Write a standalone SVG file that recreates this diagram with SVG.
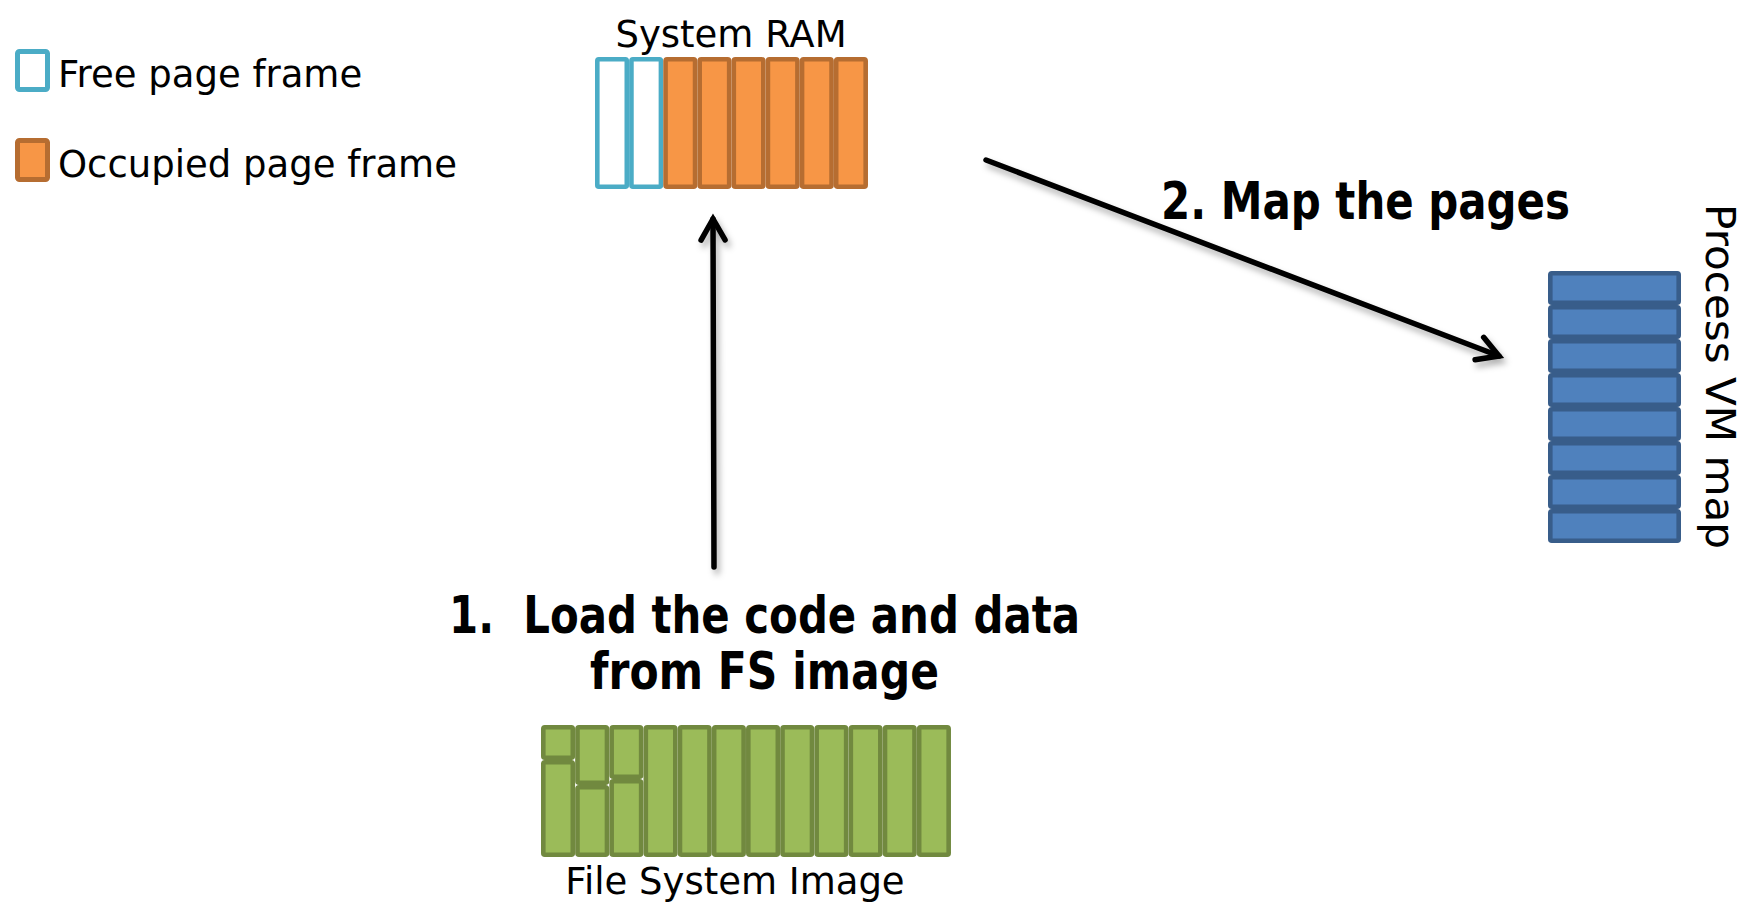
<svg xmlns="http://www.w3.org/2000/svg" width="1746" height="902" viewBox="0 0 1746 902">
  <style>
    .lbl { font-family: "DejaVu Sans", Verdana, sans-serif; font-size: 37px; fill: #000; }
    .step { font-family: "DejaVu Sans", Verdana, sans-serif; font-weight: bold; font-size: 51px; fill: #000; }
    .free { fill: #FFFFFF; stroke: #4BACC6; stroke-width: 5; }
    .occ { fill: #F79646; stroke: #B66D31; stroke-width: 5; }
    .cell { stroke-width: 4.6; }
    .fs { fill: #9BBB59; stroke: #71893F; stroke-width: 4.6; }
    .vm { fill: #4F81BD; stroke: #385D8A; stroke-width: 4.6; }
    .wire { fill: none; stroke: #000; stroke-width: 5.5; stroke-linecap: round; }
  </style>
  <defs>
    <marker id="chevron" markerUnits="userSpaceOnUse" markerWidth="40" markerHeight="40" viewBox="-30 -20 40 40" refX="0" refY="0" orient="auto">
      <path d="M -21 -12 L 0 0 L -21 12" fill="none" stroke="#000" stroke-width="5.5" stroke-linecap="round" stroke-linejoin="miter"/>
    </marker>
    <filter id="shadow" x="-10%" y="-10%" width="120%" height="130%">
      <feDropShadow dx="3" dy="5" stdDeviation="3" flood-color="#000" flood-opacity="0.3"/>
    </filter>
  </defs>

  <rect width="1746" height="902" fill="#FFFFFF"/>

  <!-- legend -->
  <g id="legend">
    <rect class="free" x="17.5" y="51.5" width="30" height="38" rx="2"/>
    <text class="lbl" x="58" y="87">Free page frame</text>
    <rect class="occ" x="17.5" y="140.5" width="30" height="39" rx="2"/>
    <text class="lbl" x="58" y="177">Occupied page frame</text>
  </g>

  <!-- physical memory: 2 free frames, 6 occupied -->
  <g id="system-ram">
    <text class="lbl" x="731" y="47" text-anchor="middle">System RAM</text>
    <rect class="free cell" x="597.3" y="59.3" width="29.5" height="127.4" rx="1.5"/>
    <rect class="free cell" x="631.43" y="59.3" width="29.5" height="127.4" rx="1.5"/>
    <rect class="occ cell" x="665.55" y="59.3" width="29.5" height="127.4" rx="1.5"/>
    <rect class="occ cell" x="699.68" y="59.3" width="29.5" height="127.4" rx="1.5"/>
    <rect class="occ cell" x="733.8" y="59.3" width="29.5" height="127.4" rx="1.5"/>
    <rect class="occ cell" x="767.93" y="59.3" width="29.5" height="127.4" rx="1.5"/>
    <rect class="occ cell" x="802.05" y="59.3" width="29.5" height="127.4" rx="1.5"/>
    <rect class="occ cell" x="836.18" y="59.3" width="29.5" height="127.4" rx="1.5"/>
  </g>

  <!-- file system image blocks -->
  <g id="fs-image">
    <rect class="fs" x="543.3" y="727.3" width="29.5" height="30.4" rx="1.5"/>
    <rect class="fs" x="543.3" y="762.3" width="29.5" height="92.4" rx="1.5"/>
    <rect class="fs" x="577.47" y="727.3" width="29.5" height="55.4" rx="1.5"/>
    <rect class="fs" x="577.47" y="787.3" width="29.5" height="67.4" rx="1.5"/>
    <rect class="fs" x="611.64" y="727.3" width="29.5" height="49.4" rx="1.5"/>
    <rect class="fs" x="611.64" y="781.3" width="29.5" height="73.4" rx="1.5"/>
    <rect class="fs" x="645.81" y="727.3" width="29.5" height="127.4" rx="1.5"/>
    <rect class="fs" x="679.98" y="727.3" width="29.5" height="127.4" rx="1.5"/>
    <rect class="fs" x="714.15" y="727.3" width="29.5" height="127.4" rx="1.5"/>
    <rect class="fs" x="748.32" y="727.3" width="29.5" height="127.4" rx="1.5"/>
    <rect class="fs" x="782.49" y="727.3" width="29.5" height="127.4" rx="1.5"/>
    <rect class="fs" x="816.66" y="727.3" width="29.5" height="127.4" rx="1.5"/>
    <rect class="fs" x="850.83" y="727.3" width="29.5" height="127.4" rx="1.5"/>
    <rect class="fs" x="885.0" y="727.3" width="29.5" height="127.4" rx="1.5"/>
    <rect class="fs" x="919.17" y="727.3" width="29.5" height="127.4" rx="1.5"/>
    <text class="lbl" x="735" y="894" text-anchor="middle">File System Image</text>
  </g>

  <!-- process virtual memory map -->
  <g id="process-vm">
    <rect class="vm" x="1550.3" y="273.3" width="128.4" height="29.4" rx="1.5"/>
    <rect class="vm" x="1550.3" y="307.3" width="128.4" height="29.4" rx="1.5"/>
    <rect class="vm" x="1550.3" y="341.3" width="128.4" height="29.4" rx="1.5"/>
    <rect class="vm" x="1550.3" y="375.3" width="128.4" height="29.4" rx="1.5"/>
    <rect class="vm" x="1550.3" y="409.3" width="128.4" height="29.4" rx="1.5"/>
    <rect class="vm" x="1550.3" y="443.3" width="128.4" height="29.4" rx="1.5"/>
    <rect class="vm" x="1550.3" y="477.3" width="128.4" height="29.4" rx="1.5"/>
    <rect class="vm" x="1550.3" y="511.3" width="128.4" height="29.4" rx="1.5"/>
    <text class="lbl" style="font-size:40px" transform="translate(1706,204) rotate(90)" textLength="345" lengthAdjust="spacingAndGlyphs">Process VM map</text>
  </g>

  <!-- step labels -->
  <g id="step-load">
    <text class="step" x="449" y="633" xml:space="preserve" textLength="631" lengthAdjust="spacingAndGlyphs">1.  Load the code and data</text>
    <text class="step" x="590" y="689" textLength="349" lengthAdjust="spacingAndGlyphs">from FS image</text>
  </g>
  <g id="step-map">
    <text class="step" x="1161" y="219" textLength="409" lengthAdjust="spacingAndGlyphs">2. Map the pages</text>
  </g>

  <!-- connectors -->
  <g id="connectors" filter="url(#shadow)">
    <line class="wire" x1="714" y1="567" x2="713" y2="219" marker-end="url(#chevron)"/>
    <line class="wire" x1="986" y1="160" x2="1499" y2="356" marker-end="url(#chevron)"/>
  </g>
</svg>
